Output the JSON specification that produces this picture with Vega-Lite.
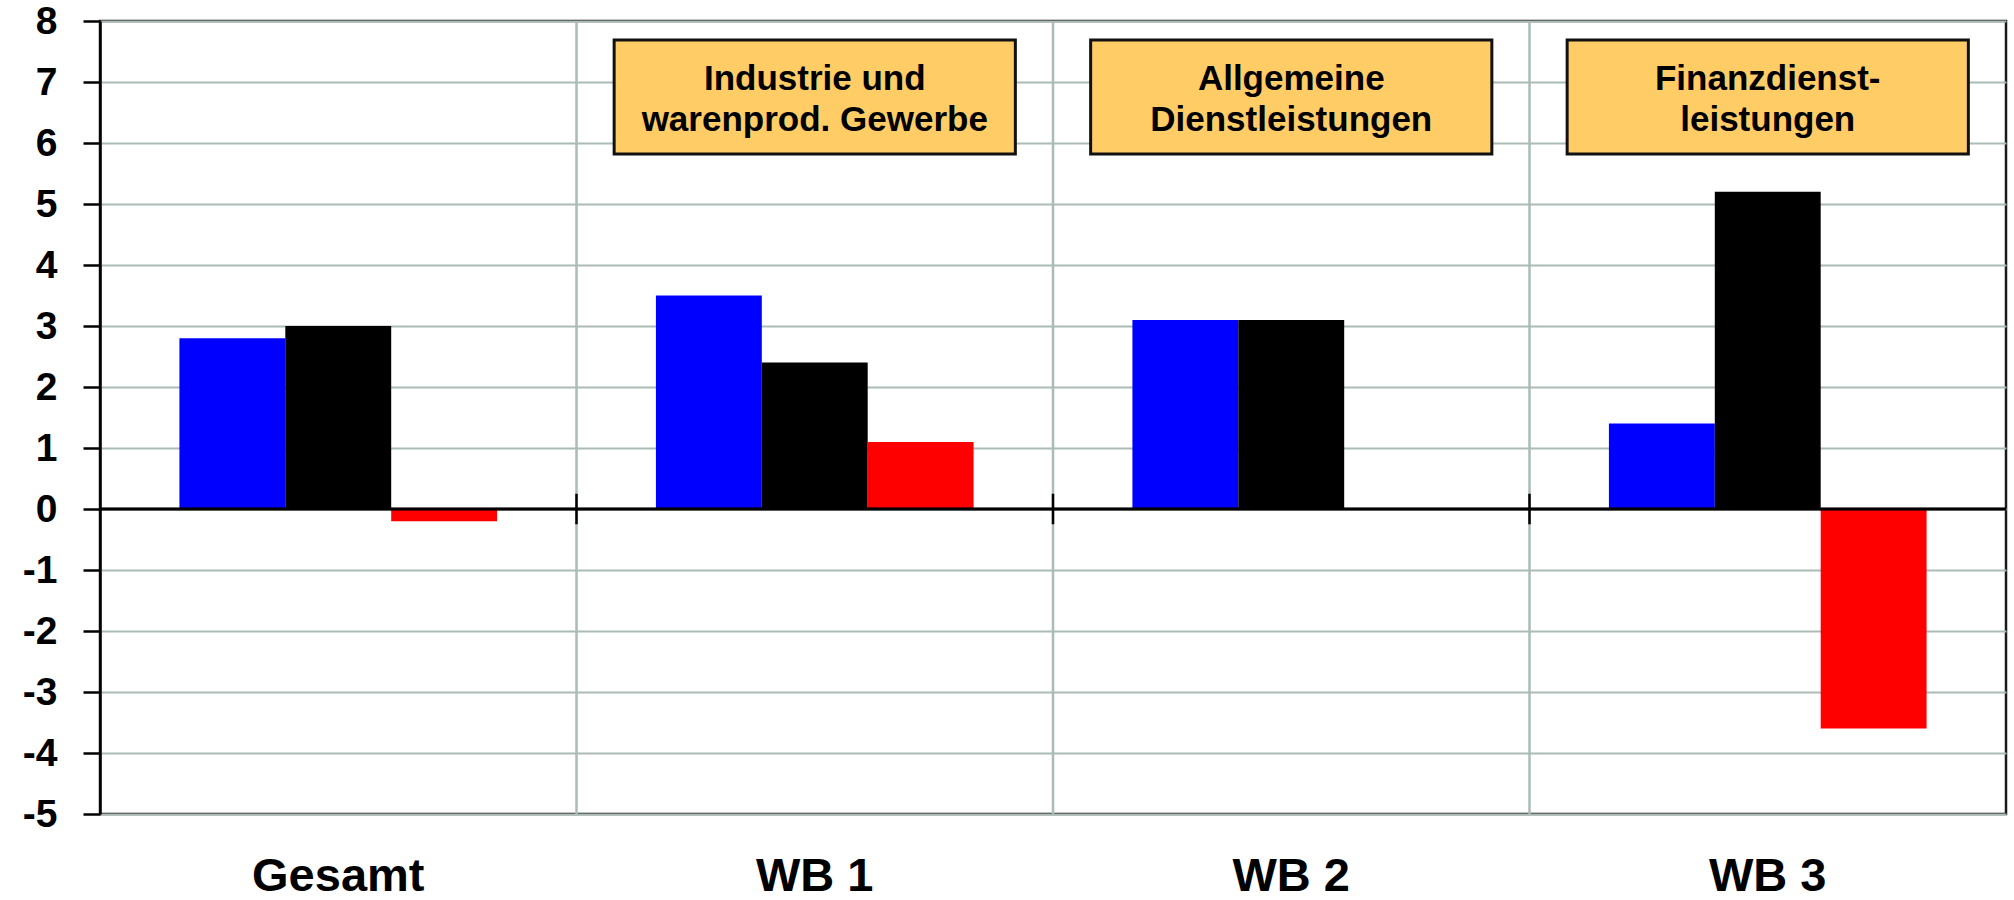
{
  "$schema": "https://vega.github.io/schema/vega-lite/v6.json",
  "width": 1906,
  "height": 793,
  "autosize": "none",
  "padding": {"left": 100, "top": 21, "right": 8, "bottom": 86},
  "background": "white",
  "config": {
    "view": {"stroke": "#1a1a1a", "strokeWidth": 2.5},
    "font": "Liberation Sans"
  },
  "datasets": {
    "bars": [
      {"cat": "Gesamt", "series": "Reihe 1", "value": 2.8},
      {"cat": "Gesamt", "series": "Reihe 2", "value": 3.0},
      {"cat": "Gesamt", "series": "Reihe 3", "value": -0.2},
      {"cat": "WB 1", "series": "Reihe 1", "value": 3.5},
      {"cat": "WB 1", "series": "Reihe 2", "value": 2.4},
      {"cat": "WB 1", "series": "Reihe 3", "value": 1.1},
      {"cat": "WB 2", "series": "Reihe 1", "value": 3.1},
      {"cat": "WB 2", "series": "Reihe 2", "value": 3.1},
      {"cat": "WB 2", "series": "Reihe 3", "value": 0},
      {"cat": "WB 3", "series": "Reihe 1", "value": 1.4},
      {"cat": "WB 3", "series": "Reihe 2", "value": 5.2},
      {"cat": "WB 3", "series": "Reihe 3", "value": -3.6}
    ],
    "boxes": [
      {"cat": "WB 1", "label": "Industrie und\nwarenprod. Gewerbe"},
      {"cat": "WB 2", "label": "Allgemeine\nDienstleistungen"},
      {"cat": "WB 3", "label": "Finanzdienst-\nleistungen"}
    ]
  },
  "layer": [
    {
      "data": {"name": "boxes"},
      "mark": {"type": "rule", "color": "#ABBBB5", "strokeWidth": 2.5},
      "encoding": {
        "x": {"field": "cat", "type": "nominal", "sort": ["Gesamt", "WB 1", "WB 2", "WB 3"], "bandPosition": 0},
        "y": {"datum": -5},
        "y2": {"datum": 8}
      }
    },
    {
      "data": {"name": "bars"},
      "mark": {"type": "bar"},
      "encoding": {
        "x": {
          "field": "cat",
          "type": "nominal",
          "sort": ["Gesamt", "WB 1", "WB 2", "WB 3"],
          "scale": {"paddingInner": 0, "paddingOuter": 0},
          "axis": {
            "title": null,
            "orient": "bottom",
            "bandPosition": 0.5,
            "domain": false,
            "ticks": false,
            "tickSize": 0,
            "grid": false,
            "labelAngle": 0,
            "labelAlign": "center",
            "labelFont": "Liberation Sans",
            "labelFontWeight": "bold",
            "labelFontSize": 47,
            "labelColor": "black",
            "labelBaseline": "alphabetic",
            "labelPadding": 76
          }
        },
        "xOffset": {
          "field": "series",
          "type": "nominal",
          "scale": {"paddingInner": 0, "paddingOuter": 0.75}
        },
        "y": {
          "field": "value",
          "type": "quantitative",
          "scale": {"domain": [-5, 8], "nice": false, "zero": false},
          "axis": {
            "title": null,
            "values": [-5, -4, -3, -2, -1, 0, 1, 2, 3, 4, 5, 6, 7, 8],
            "labelExpr": "datum.value < 0 ? '-' + abs(datum.value) : '' + datum.value",
            "tickSize": 17,
            "tickWidth": 2.5,
            "tickColor": "black",
            "domainColor": "black",
            "domainWidth": 2.5,
            "grid": true,
            "gridColor": "#ABBBB5",
            "gridWidth": 2,
            "labelFont": "Liberation Sans",
            "labelFontWeight": "bold",
            "labelFontSize": 39,
            "labelColor": "black",
            "labelPadding": 26,
            "labelFlush": false,
            "labelOverlap": false
          }
        },
        "color": {
          "field": "series",
          "type": "nominal",
          "scale": {"domain": ["Reihe 1", "Reihe 2", "Reihe 3"], "range": ["#0000FF", "#000000", "#FF0000"]},
          "legend": null
        }
      }
    },
    {
      "data": {"name": "boxes"},
      "mark": {"type": "bar", "fill": "#FFCC66", "stroke": "#111111", "strokeWidth": 3, "width": {"band": 0.842}},
      "encoding": {
        "x": {"field": "cat", "type": "nominal", "sort": ["Gesamt", "WB 1", "WB 2", "WB 3"]},
        "y": {"datum": 7.69},
        "y2": {"datum": 5.82}
      }
    },
    {
      "data": {"name": "boxes"},
      "mark": {
        "type": "text",
        "lineBreak": "\n",
        "align": "center",
        "baseline": "alphabetic",
        "font": "Liberation Sans",
        "fontWeight": "bold",
        "fontSize": 35,
        "lineHeight": 41.5,
        "color": "black"
      },
      "encoding": {
        "x": {"field": "cat", "type": "nominal", "sort": ["Gesamt", "WB 1", "WB 2", "WB 3"]},
        "y": {"datum": 6.877},
        "text": {"field": "label", "type": "nominal"}
      }
    },
    {
      "data": {"name": "boxes"},
      "mark": {"type": "rule", "color": "black", "strokeWidth": 2.5},
      "encoding": {
        "y": {"datum": 0}
      }
    },
    {
      "data": {"name": "boxes"},
      "mark": {"type": "rule", "color": "black", "strokeWidth": 2.5},
      "encoding": {
        "x": {"field": "cat", "type": "nominal", "sort": ["Gesamt", "WB 1", "WB 2", "WB 3"], "bandPosition": 0},
        "y": {"datum": -0.25},
        "y2": {"datum": 0.25}
      }
    }
  ]
}
